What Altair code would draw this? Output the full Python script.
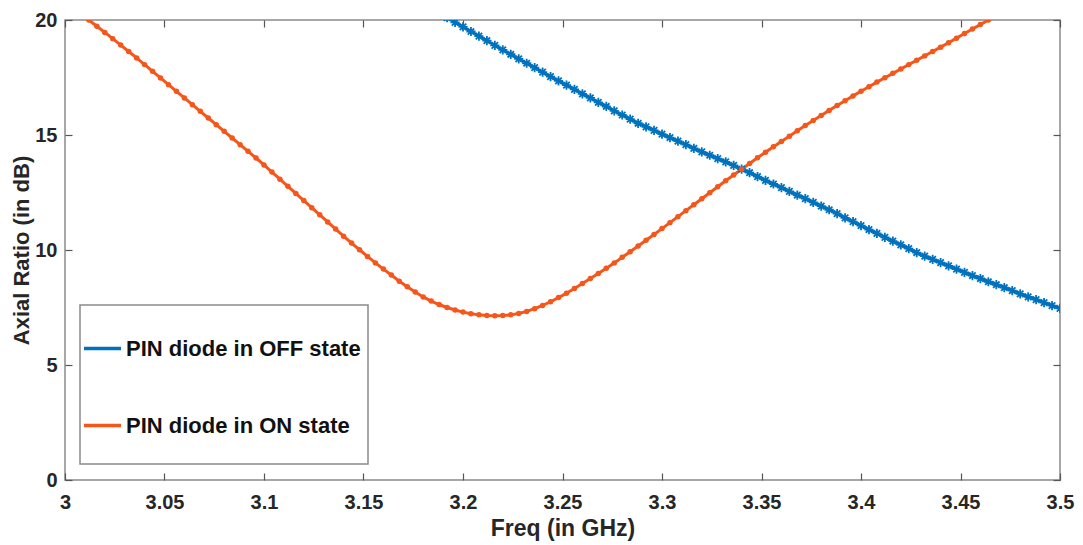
import altair as alt
import pandas as pd

# ---- data ----
off_freq = [
    3.192, 3.196, 3.200, 3.204, 3.208, 3.212, 3.216, 3.220, 3.224, 3.228,
    3.232, 3.236, 3.240, 3.244, 3.248, 3.252, 3.256, 3.260, 3.264, 3.268,
    3.272, 3.276, 3.280, 3.284, 3.288, 3.292, 3.296, 3.300, 3.304, 3.308,
    3.312, 3.316, 3.320, 3.324, 3.328, 3.332, 3.336, 3.340, 3.344, 3.348,
    3.352, 3.356, 3.360, 3.364, 3.368, 3.372, 3.376, 3.380, 3.384, 3.388,
    3.392, 3.396, 3.400, 3.404, 3.408, 3.412, 3.416, 3.420, 3.424, 3.428,
    3.432, 3.436, 3.440, 3.444, 3.448, 3.452, 3.456, 3.460, 3.464, 3.468,
    3.472, 3.476, 3.480, 3.484, 3.488, 3.492, 3.496, 3.500,
]
off_ar = [
    20.10, 19.90, 19.70, 19.50, 19.30, 19.10, 18.90, 18.70, 18.51, 18.31,
    18.12, 17.93, 17.73, 17.54, 17.35, 17.17, 16.98, 16.79, 16.61, 16.42,
    16.24, 16.05, 15.87, 15.69, 15.51, 15.35, 15.20, 15.04, 14.89, 14.73,
    14.58, 14.42, 14.27, 14.12, 13.97, 13.83, 13.68, 13.52, 13.36, 13.19,
    13.03, 12.87, 12.71, 12.55, 12.39, 12.23, 12.07, 11.91, 11.75, 11.58,
    11.40, 11.23, 11.06, 10.89, 10.72, 10.55, 10.39, 10.22, 10.06, 9.89,
    9.73, 9.59, 9.45, 9.31, 9.17, 9.03, 8.89, 8.76, 8.62, 8.49,
    8.36, 8.23, 8.09, 7.96, 7.84, 7.71, 7.58, 7.46,
]
on_freq = [
    3.012, 3.016, 3.020, 3.024, 3.028, 3.032, 3.036, 3.040, 3.044, 3.048,
    3.052, 3.056, 3.060, 3.064, 3.068, 3.072, 3.076, 3.080, 3.084, 3.088,
    3.092, 3.096, 3.100, 3.104, 3.108, 3.112, 3.116, 3.120, 3.124, 3.128,
    3.132, 3.136, 3.140, 3.144, 3.148, 3.152, 3.156, 3.160, 3.164, 3.168,
    3.172, 3.176, 3.180, 3.184, 3.188, 3.192, 3.196, 3.200, 3.204, 3.208,
    3.212, 3.216, 3.220, 3.224, 3.228, 3.232, 3.236, 3.240, 3.244, 3.248,
    3.252, 3.256, 3.260, 3.264, 3.268, 3.272, 3.276, 3.280, 3.284, 3.288,
    3.292, 3.296, 3.300, 3.304, 3.308, 3.312, 3.316, 3.320, 3.324, 3.328,
    3.332, 3.336, 3.340, 3.344, 3.348, 3.352, 3.356, 3.360, 3.364, 3.368,
    3.372, 3.376, 3.380, 3.384, 3.388, 3.392, 3.396, 3.400, 3.404, 3.408,
    3.412, 3.416, 3.420, 3.424, 3.428, 3.432, 3.436, 3.440, 3.444, 3.448,
    3.452, 3.456, 3.460, 3.464,
]
on_ar = [
    20.00, 19.73, 19.46, 19.19, 18.91, 18.63, 18.35, 18.06, 17.77, 17.48,
    17.19, 16.90, 16.61, 16.32, 16.03, 15.74, 15.45, 15.16, 14.87, 14.58,
    14.29, 14.00, 13.70, 13.39, 13.08, 12.77, 12.46, 12.15, 11.84, 11.53,
    11.22, 10.91, 10.60, 10.30, 10.01, 9.72, 9.44, 9.17, 8.91, 8.64,
    8.40, 8.17, 7.96, 7.78, 7.63, 7.50, 7.39, 7.30, 7.23, 7.18,
    7.15, 7.14, 7.15, 7.18, 7.24, 7.33, 7.45, 7.59, 7.75, 7.93,
    8.12, 8.33, 8.54, 8.76, 8.98, 9.21, 9.44, 9.68, 9.92, 10.17,
    10.42, 10.67, 10.93, 11.19, 11.45, 11.71, 11.97, 12.23, 12.49, 12.75,
    13.01, 13.26, 13.51, 13.76, 14.01, 14.25, 14.49, 14.72, 14.95, 15.18,
    15.41, 15.63, 15.85, 16.07, 16.28, 16.49, 16.70, 16.90, 17.10, 17.30,
    17.49, 17.68, 17.87, 18.06, 18.25, 18.44, 18.63, 18.82, 19.01, 19.21,
    19.41, 19.61, 19.80, 20.00,
]
series_names = ["PIN diode in OFF state", "PIN diode in ON state"]
series_colors = ["#0072BD", "#F5561A"]
x_ticks = [3.0, 3.05, 3.1, 3.15, 3.2, 3.25, 3.3, 3.35, 3.4, 3.45, 3.5]
y_ticks = [0, 5, 10, 15, 20]
x_title = "Freq (in GHz)"
y_title = "Axial Ratio (in dB)"

df_off = pd.DataFrame({"freq": off_freq, "ar": off_ar, "series": series_names[0]})
df_on = pd.DataFrame({"freq": on_freq, "ar": on_ar, "series": series_names[1]})
df = pd.concat([df_off, df_on], ignore_index=True)

FONT = "Liberation Sans"
TXT = "#262626"
TICK = "#555555"
BOX = "#8a8a8a"
ASTERISK = "M0,-1L0,1M-1,0L1,0M-0.7,-0.7L0.7,0.7M-0.7,0.7L0.7,-0.7"

x_scale = alt.Scale(domain=[3.0, 3.5], nice=False, zero=False)
y_scale = alt.Scale(domain=[0, 20], nice=False, zero=False)

common = dict(domain=False, grid=False, tickSize=7, offset=-7, tickColor=TICK,
              tickWidth=1.2, labelFlush=False)

x_bottom = alt.Axis(orient="bottom", values=x_ticks, format=".2~f", labelPadding=12,
                    labelFont=FONT, labelFontSize=20, labelFontWeight="bold",
                    labelColor=TXT, title=x_title, titleFont=FONT, titleFontSize=23,
                    titleFontWeight="bold", titleColor=TXT, titlePadding=5, **common)
y_left = alt.Axis(orient="left", values=y_ticks, labelPadding=8,
                  labelFont=FONT, labelFontSize=20, labelFontWeight="bold",
                  labelColor=TXT, title=y_title, titleFont=FONT, titleFontSize=22,
                  titleFontWeight="bold", titleColor=TXT, titlePadding=1, **common)
x_top = alt.Axis(orient="top", values=x_ticks, labels=False, title="", **common)
y_right = alt.Axis(orient="right", values=y_ticks, labels=False, title="", **common)

legend_box = alt.Chart(pd.DataFrame({"k": [0]})).mark_rect(
    fill="white", stroke=BOX, strokeWidth=1.5
).encode(x=alt.value(15), x2=alt.value(303), y=alt.value(285), y2=alt.value(444))

lines = alt.Chart(df).mark_line(strokeWidth=3, clip=True).encode(
    x=alt.X("freq:Q", scale=x_scale, axis=x_bottom),
    y=alt.Y("ar:Q", scale=y_scale, axis=y_left),
    color=alt.Color(
        "series:N",
        scale=alt.Scale(domain=series_names, range=series_colors),
        sort=series_names,
        legend=alt.Legend(
            title=None, orient="none", legendX=17, legendY=308,
            symbolType="stroke", symbolSize=1369, symbolStrokeWidth=3.5,
            labelFont=FONT, labelFontSize=22, labelFontWeight="bold",
            labelColor="#111111", labelOffset=3, rowPadding=45, padding=0,
            labelLimit=400,
        ),
    ),
)

pts_off = alt.Chart(df_off).mark_point(
    shape=ASTERISK, filled=False, size=85, strokeWidth=1.8,
    color=series_colors[0], opacity=1, clip=True
).encode(
    x=alt.X("freq:Q", scale=x_scale, axis=None),
    y=alt.Y("ar:Q", scale=y_scale, axis=None),
)

pts_on = alt.Chart(df_on).mark_point(
    shape="circle", filled=True, size=30, color=series_colors[1], opacity=1, clip=True
).encode(
    x=alt.X("freq:Q", scale=x_scale, axis=None),
    y=alt.Y("ar:Q", scale=y_scale, axis=None),
)

frame_axes = alt.Chart(df_off).mark_point(opacity=0).encode(
    x=alt.X("freq:Q", scale=x_scale, axis=x_top),
    y=alt.Y("ar:Q", scale=y_scale, axis=y_right),
)

chart = alt.layer(legend_box, lines, pts_off, pts_on, frame_axes).resolve_axis(
    x="independent", y="independent"
).properties(
    width=995, height=460,
    autosize=alt.AutoSizeParams(type="none"),
    padding={"left": 57, "top": 12, "right": 15, "bottom": 65},
    background="white",
).configure_view(stroke=BOX, strokeWidth=1.5)

chart.save("out.html", embed_options={"renderer": "svg", "actions": False})
